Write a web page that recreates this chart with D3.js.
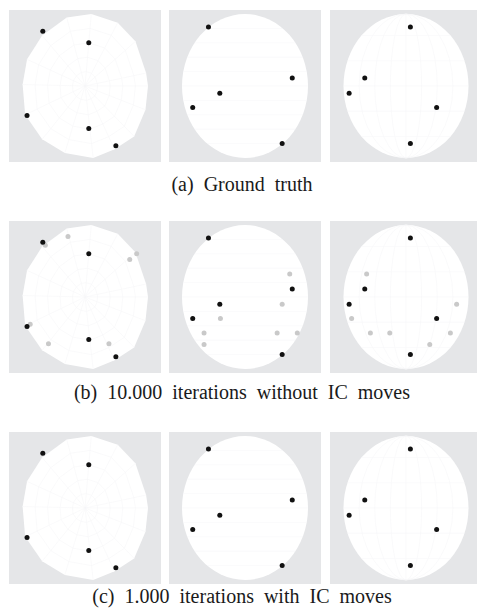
<!DOCTYPE html>
<html>
<head>
<meta charset="utf-8">
<script src="https://cdn.jsdelivr.net/npm/d3@7"></script>
<style>
  body { margin: 0; background: #fff; }
  svg { display: block; }
</style>
</head>
<body>
<div id="fig"></div>
<script>
// figure size
var W = 477, H = 614;

// panel layout (columns / rows)
var colX = [9, 169, 330];
var rowY = [10, 221, 432];
var panelW = 152, panelH = 152;

// captions
var captions = ["(a) Ground truth", "(b) 10.000 iterations without IC moves", "(c) 1.000 iterations with IC moves"];
var captionY = [191, 399, 603];

// outline of the first shape (polygon), normalized units [u, v]
var polyOutline = [
  [-0.29, 0.95], [0.10, 1.0], [0.52, 0.88], [0.80, 0.62], [0.97, 0.18], [1.0, 0.0],
  [0.96, -0.33], [0.78, -0.70], [0.47, -0.88], [0.13, -1.0], [-0.32, -0.93],
  [-0.68, -0.74], [-0.95, -0.40], [-0.99, 0.02], [-0.92, 0.37], [-0.68, 0.70]
];

// true points per shape (normalized [u, v])
var truthA = [[-0.67, 0.76], [0.06, 0.60], [-0.92, -0.41], [0.06, -0.59], [0.49, -0.83]];
var truthB = [[-0.58, 0.82], [0.75, 0.11], [-0.40, -0.10], [-0.83, -0.30], [0.59, -0.80]];
var truthC = [[0.07, 0.82], [-0.66, 0.11], [-0.91, -0.10], [0.49, -0.30], [0.07, -0.80]];

// wrong guesses (10.000 iterations without IC moves)
var wrongA = [[-0.27, 0.84], [-0.63, 0.72], [0.82, 0.60], [0.71, 0.52], [-0.87, -0.38], [-0.58, -0.65], [0.38, -0.65]];
var wrongB = [[0.71, 0.32], [0.59, -0.10], [-0.39, -0.30], [-0.65, -0.50], [0.51, -0.50], [0.83, -0.50], [-0.65, -0.66]];
var wrongC = [[-0.63, 0.32], [0.81, -0.10], [-0.87, -0.30], [-0.57, -0.50], [-0.26, -0.50], [0.71, -0.50], [0.38, -0.66]];

var truth = [truthA, truthB, truthC];
var wrong = [wrongA, wrongB, wrongC];
var shapeR = [[63, 72], [63, 72], [62.5, 72]];

var svg = d3.select("#fig").append("svg")
  .attr("width", W)
  .attr("height", H);

var gridColor = "#f7f7f8";

function drawPanel(row, col) {
  var g = svg.append("g")
    .attr("transform", "translate(" + colX[col] + "," + rowY[row] + ")");

  var rx = shapeR[col][0], ry = shapeR[col][1];
  var x = d3.scaleLinear().domain([-1, 1]).range([panelW / 2 - rx, panelW / 2 + rx]);
  var y = d3.scaleLinear().domain([1, -1]).range([panelH / 2 - ry, panelH / 2 + ry]);

  g.append("rect")
    .attr("width", panelW)
    .attr("height", panelH)
    .attr("fill", "#e5e6e8");

  var line = d3.line().x(function(d) { return x(d[0]); }).y(function(d) { return y(d[1]); });

  if (col == 0) {
    g.append("path")
      .attr("d", line(polyOutline) + "Z")
      .attr("fill", "#fff");
    // faint web
    [0.2, 0.4, 0.6, 0.8].forEach(function(k) {
      g.append("path")
        .attr("d", line(polyOutline.map(function(p) { return [p[0] * k, p[1] * k]; })) + "Z")
        .attr("fill", "none").attr("stroke", gridColor).attr("stroke-width", 0.6);
    });
    polyOutline.forEach(function(p) {
      g.append("line")
        .attr("x1", x(0)).attr("y1", y(0))
        .attr("x2", x(p[0])).attr("y2", y(p[1]))
        .attr("stroke", gridColor).attr("stroke-width", 0.6);
    });
  } else {
    g.append("ellipse")
      .attr("cx", x(0)).attr("cy", y(0))
      .attr("rx", rx).attr("ry", ry)
      .attr("fill", "#fff");
    if (col == 1) {
      d3.range(-0.8, 0.81, 0.2).forEach(function(v) {
        var w = Math.sqrt(Math.max(0, 1 - v * v));
        g.append("line")
          .attr("x1", x(-w)).attr("x2", x(w))
          .attr("y1", y(v)).attr("y2", y(v))
          .attr("stroke", gridColor).attr("stroke-width", 0.6);
      });
    } else {
      // meridians and parallels
      [0.25, 0.5, 0.75].forEach(function(k) {
        g.append("ellipse")
          .attr("cx", x(0)).attr("cy", y(0))
          .attr("rx", rx * k).attr("ry", ry)
          .attr("fill", "none").attr("stroke", gridColor).attr("stroke-width", 0.6);
      });
      g.append("line")
        .attr("x1", x(0)).attr("x2", x(0)).attr("y1", y(1)).attr("y2", y(-1))
        .attr("stroke", gridColor).attr("stroke-width", 0.6);
      [-0.7, -0.35, 0, 0.35, 0.7].forEach(function(v) {
        var w = Math.sqrt(1 - v * v);
        g.append("line")
          .attr("x1", x(-w)).attr("x2", x(w))
          .attr("y1", y(v)).attr("y2", y(v))
          .attr("stroke", gridColor).attr("stroke-width", 0.6);
      });
    }
  }

  if (row == 1) {
    g.selectAll(".wrong")
      .data(wrong[col])
      .enter()
      .append("circle")
        .attr("class", "wrong")
        .attr("cx", function(d) { return x(d[0]); })
        .attr("cy", function(d) { return y(d[1]); })
        .attr("r", 2.5)
        .style("fill", "#c9c9c9");
  }

  g.selectAll(".truth")
    .data(truth[col])
    .enter()
    .append("circle")
      .attr("class", "truth")
      .attr("cx", function(d) { return x(d[0]); })
      .attr("cy", function(d) { return y(d[1]); })
      .attr("r", 2.5)
      .style("fill", "#111");
}

for (var r = 0; r < 3; r++) {
  for (var c = 0; c < 3; c++) drawPanel(r, c);
}

// captions
svg.selectAll(".caption")
  .data(captions)
  .enter()
  .append("text")
    .attr("class", "caption")
    .attr("x", 242)
    .attr("y", function(d, i) { return captionY[i]; })
    .attr("text-anchor", "middle")
    .style("font-family", "'Liberation Serif', 'DejaVu Serif', serif")
    .style("font-size", "20px")
    .style("word-spacing", "5px")
    .style("fill", "#1a1a1a")
    .text(function(d) { return d; });
</script>
</body>
</html>
